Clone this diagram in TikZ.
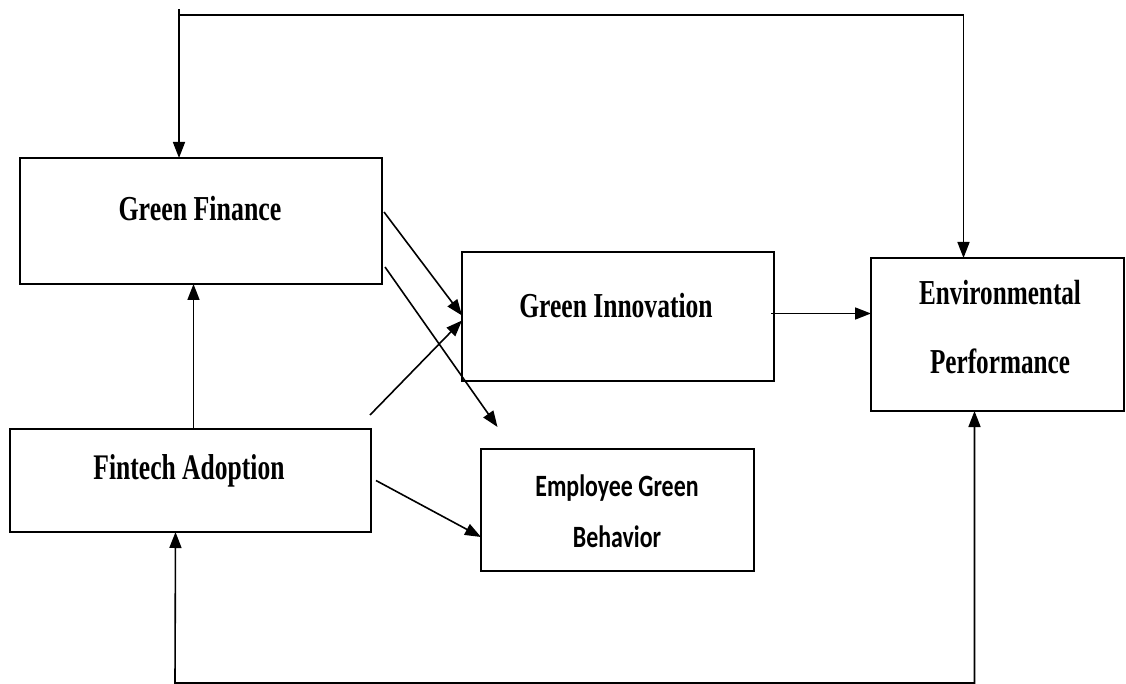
\documentclass[tikz,border=0pt]{standalone}
\usepackage{fontspec}
\usepackage{graphicx}
\setmainfont{Liberation Serif}
\newfontfamily\calib{Carlito}
\usetikzlibrary{arrows.meta,calc}
\begin{document}
\begin{tikzpicture}[x=1pt,y=-1pt,
  box/.style={draw,line width=1.8pt,rectangle,inner sep=0pt,outer sep=0pt},
  tip/.tip={Triangle[length=16pt,width=12pt]},
  conn/.style={line width=1.6pt,-tip},
  conn2/.style={line width=1.6pt,tip-tip},
  lbl/.style={anchor=base,inner sep=0pt,font=\fontsize{35}{40}\selectfont\bfseries},
  slbl/.style={anchor=base,inner sep=0pt,font=\calib\fontsize{31}{36}\selectfont\bfseries}]
\fill[white] (0,0) rectangle (1126,684);
\useasboundingbox (0,0) rectangle (1126,684);
% boxes
\node[box,minimum width=362pt,minimum height=126pt] (gf) at (201,221) {};
\node[box,minimum width=312pt,minimum height=129pt] (gi) at (618,316.5) {};
\node[box,minimum width=361pt,minimum height=103pt] (fa) at (190.5,480.5) {};
\node[box,minimum width=273pt,minimum height=122pt] (egb) at (617.5,510) {};
\node[box,minimum width=253pt,minimum height=153pt] (ep) at (997.5,334.5) {};
% labels
\node[lbl] (gft) at (200,221) {\scalebox{0.74}[1]{Green Finance}};
\node[lbl] (git) at (616,317) {\scalebox{0.73}[1]{Green Innovation}};
\node[lbl,font=\fontsize{36}{40}\selectfont\bfseries] (fat) at (189,479) {\scalebox{0.71}[1]{Fintech Adoption}};
\node[slbl] (egb1) at (617,496) {\scalebox{0.77}[1]{Employee Green}};
\node[slbl] (egb2) at (617,547) {\scalebox{0.77}[1]{Behavior}};
\node[lbl] (ep1) at (1000,305) {\scalebox{0.72}[1]{Environmental}};
\node[lbl] (ep2) at (1000,373) {\scalebox{0.72}[1]{Performance}};
% loop coordinates
\coordinate (tl) at (179,15);
\coordinate (tstub) at (179,9);
\coordinate (bl) at (175,683);
\coordinate (gie) at ([xshift=-3pt,yshift=3pt]gi.east);
% connectors
\draw[conn] ([xshift=2pt,yshift=9pt]gf.east) -- ([yshift=1pt]gi.west);
\draw[conn] ([xshift=3pt,yshift=-46pt]gf.east) -- ([xshift=-120pt,yshift=22pt]egb.north);
\draw[conn] ([xshift=-1pt,yshift=14pt]fa.north east) -- ([yshift=-4pt]gi.west);
\draw[conn] ([xshift=5pt]fa.east) -- ([yshift=-27pt]egb.west);
\draw[conn] ([xshift=3pt]fa.north) -- ([xshift=3pt]fa.north |- gf.south);
\draw[conn] (gie) -- (ep.west |- gie);
\draw[conn2] ([xshift=-22pt]gf.north) -- (tl) -| ([xshift=-34pt]ep.north);
\draw[line width=1.6pt] (tl) -- (tstub);
\draw[conn2] ([xshift=-15pt]fa.south) -- (bl) -| ([xshift=-23pt]ep.south);
\end{tikzpicture}
\end{document}
